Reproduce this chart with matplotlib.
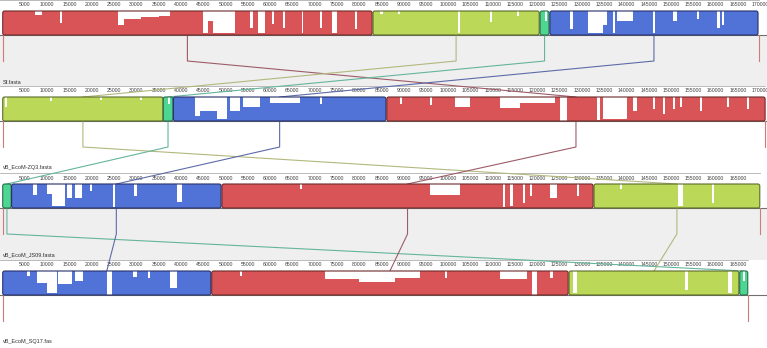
"""
Mauve-style progressive alignment of four phage genomes:
 - coloured LCB blocks with similarity profile, rulers, connecting lines
"""
import matplotlib.pyplot as plt
from matplotlib.patches import FancyBboxPatch

# genome names and lengths (kb)
genomes = ["Sf.fasta", "vB_EcoM-ZQ3.fasta", "vB_EcoM_JS09.fasta", "vB_EcoM_SQ17.fas"]
genome_len = [169.7, 171.1, 170.0, 167.3]
ruler_max = [170000, 170000, 165000, 165000]

# LCBs per genome: (lcb, start_kb, end_kb)
lcbs_sf = [("red", 0.0, 82.9), ("lime", 83.1, 120.4), ("teal", 120.6, 122.6), ("blue", 122.8, 169.5)]
lcbs_zq3 = [("lime", 0.0, 36.0), ("teal", 36.0, 38.2), ("blue", 38.3, 86.0), ("red", 86.2, 171.1)]
lcbs_js09 = [("teal", 0.0, 1.9), ("blue", 2.0, 49.0), ("red", 49.2, 132.5), ("lime", 132.7, 169.9)]
lcbs_sq17 = [("blue", 0.0, 46.7), ("red", 46.9, 126.9), ("lime", 127.1, 165.2), ("teal", 165.4, 167.2)]

# similarity dips: (start_kb, end_kb, depth 0..1)
dips_sf = [
    (7.3, 8.8, 0.15), (12.9, 13.3, 0.5), (25.9, 27.2, 0.6), (27.2, 31.0, 0.35),
    (31.0, 35.0, 0.25), (35.0, 37.6, 0.2), (45.0, 46.1, 0.9), (46.1, 47.2, 0.4),
    (47.2, 52.1, 0.9), (55.5, 56.2, 0.7), (57.3, 58.9, 0.9), (60.4, 60.8, 0.55),
    (62.9, 63.3, 0.7), (67.1, 67.5, 0.9), (71.2, 71.6, 0.7), (73.9, 75.0, 0.9),
    (79.1, 79.5, 0.75), (84.7, 85.3, 0.12), (88.6, 89.2, 0.12), (102.2, 102.6, 0.9),
    (109.3, 109.7, 0.45), (115.4, 115.8, 0.2), (121.7, 122.1, 0.4), (127.3, 128.0, 0.75),
    (131.4, 134.7, 0.9), (134.7, 135.6, 0.6), (137.0, 137.4, 0.9), (137.9, 141.5, 0.4),
    (145.9, 146.4, 0.9), (150.4, 151.3, 0.4), (155.8, 156.2, 0.35), (160.3, 161.0, 0.7),
    (161.4, 161.8, 0.6),
]
dips_zq3 = [
    (0.5, 1.0, 0.4), (10.6, 11.0, 0.15), (21.8, 22.2, 0.12), (30.8, 31.2, 0.12),
    (37.1, 37.5, 0.3), (43.2, 44.3, 0.8), (44.3, 48.1, 0.6), (48.1, 50.3, 0.9),
    (51.0, 53.3, 0.6), (53.9, 57.7, 0.4), (60.0, 66.7, 0.25), (71.2, 71.6, 0.3),
    (89.2, 89.6, 0.3), (95.9, 96.3, 0.35), (101.5, 104.9, 0.4), (111.6, 116.1, 0.45),
    (116.1, 124.0, 0.25), (125.1, 126.6, 1.0), (133.4, 134.1, 0.95), (134.7, 140.1, 0.9),
    (141.5, 142.4, 0.6), (146.0, 146.4, 0.5), (148.2, 148.6, 0.7), (150.4, 150.8, 0.5),
    (152.0, 152.4, 0.4), (156.5, 156.9, 0.6), (162.5, 162.9, 0.4), (167.0, 167.4, 0.5),
]
dips_js09 = [
    (6.8, 7.7, 0.45), (9.9, 11.1, 0.4), (11.1, 14.0, 0.9), (14.4, 15.6, 0.6),
    (16.2, 17.8, 0.6), (19.6, 20.0, 0.3), (24.7, 25.1, 0.95), (29.5, 30.1, 0.5),
    (39.1, 40.2, 0.75), (66.7, 67.1, 0.2), (95.9, 102.6, 0.45), (112.3, 112.7, 0.95),
    (113.9, 114.5, 0.9), (116.8, 117.2, 0.8), (118.3, 118.7, 0.5), (122.8, 124.4, 0.6),
    (128.9, 129.3, 0.5), (138.5, 138.9, 0.2), (151.6, 152.7, 0.9), (159.2, 159.6, 0.8),
]
dips_sq17 = [
    (5.5, 6.1, 0.2), (7.7, 9.9, 0.5), (9.9, 12.2, 0.9), (12.4, 15.6, 0.55),
    (16.2, 18.0, 0.4), (23.4, 24.5, 1.0), (29.2, 30.1, 0.25), (32.6, 33.0, 0.3),
    (37.5, 39.1, 0.7), (53.3, 53.7, 0.2), (72.3, 80.0, 0.35), (80.0, 88.0, 0.45),
    (88.0, 93.7, 0.3), (99.3, 99.7, 0.3), (111.6, 117.7, 0.35), (118.8, 119.9, 1.0),
    (122.8, 123.5, 0.3), (128.0, 128.9, 0.9), (153.1, 153.8, 0.8), (162.8, 163.7, 0.9),
    (166.1, 166.5, 0.4),
]

lcbs = [lcbs_sf, lcbs_zq3, lcbs_js09, lcbs_sq17]
dips = [dips_sf, dips_zq3, dips_js09, dips_sq17]

fill_col = {"red": "#d95457", "lime": "#bcd858", "teal": "#4dd692", "blue": "#5173d8"}
edge_col = {"red": "#6b2a2a", "lime": "#5a6a2a", "teal": "#2a6a4a", "blue": "#27306b"}
link_col = {"red": "#9c5c68", "lime": "#b3b87c", "teal": "#64b59c", "blue": "#5d6ba8"}

# layout in pixel rows
panel_top = [0, 86, 173, 260]
BLK_T, BLK_B, DROP, LABEL_Y = 11, 35, 61, 82
FONT = ["Liberation Sans", "DejaVu Sans"]

fig = plt.figure(figsize=(7.67, 3.48), dpi=100)
ax = fig.add_axes([0, 0, 1, 1])
ax.set_xlim(-0.606, 171.52)
ax.set_ylim(348, 0)
ax.axis("off")

for i, top in enumerate(panel_top):
    # background below the blocks: grey / white alternating
    if i % 2 == 0:
        ax.axhspan(top + BLK_B, top + 86 + (1 if i == 2 else 0), color="#efefef", lw=0, zorder=0)
    # ruler
    ax.plot([-0.606, genome_len[i]], [top, top], color="#b0b0b0", lw=0.6, zorder=1)
    for pos in range(5000, ruler_max[i] + 1, 5000):
        ax.text(pos / 1000, top + 5, str(pos), ha="center", va="center",
                fontsize=3.7, color="#404040", family=FONT, zorder=1)
    # centre axis line
    ax.plot([-0.606, 171.52], [top + BLK_B, top + BLK_B], color="#707070", lw=0.8, zorder=1)
    # genome ends
    for x in (0.0, genome_len[i]):
        ax.plot([x, x], [top + BLK_B, top + DROP], color="#d07a7a", lw=0.8, zorder=1)
    ax.text(0.0, top + LABEL_Y, genomes[i], ha="left", va="center",
            fontsize=4.0, color="#303030", family=FONT, zorder=1)

    # blocks with similarity profile
    for name, s, e in lcbs[i]:
        box = FancyBboxPatch((s, top + BLK_T), e - s, BLK_B - BLK_T,
                             boxstyle="round,pad=0,rounding_size=0.45",
                             mutation_aspect=4.4, facecolor="white",
                             edgecolor="none", zorder=2)
        ax.add_patch(box)
        xs, lv = [s], [1.0]
        for ds, de, d in dips[i]:
            if ds >= s and de <= e:
                xs += [ds, de]
                lv += [1.0 - d, 1.0]
        xs.append(e)
        lv.append(1.0)
        h = BLK_B - BLK_T
        prof = ax.fill_between(xs, top + BLK_B, [top + BLK_B - h * v for v in lv],
                               step="post", color=fill_col[name], lw=0, zorder=3)
        prof.set_clip_path(box)
        ax.add_patch(FancyBboxPatch((s, top + BLK_T), e - s, BLK_B - BLK_T,
                                    boxstyle="round,pad=0,rounding_size=0.45",
                                    mutation_aspect=4.4, facecolor="none",
                                    edgecolor=edge_col[name], lw=0.8, zorder=4))

# connecting lines between block centres of consecutive genomes
for i in range(len(panel_top) - 1):
    nxt = {n: (s + e) / 2 for n, s, e in lcbs[i + 1]}
    for name, s, e in lcbs[i]:
        c = (s + e) / 2
        ax.plot([c, c, nxt[name]],
                [panel_top[i] + BLK_B, panel_top[i] + DROP, panel_top[i + 1] + BLK_T],
                color=link_col[name], lw=0.8, zorder=1.5)

fig.savefig("out.png", dpi=100)
